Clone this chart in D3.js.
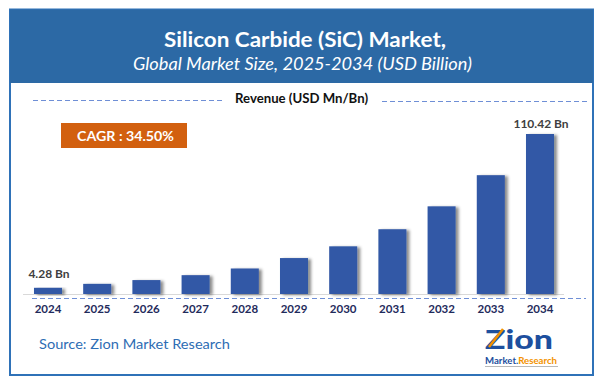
<!DOCTYPE html>
<html>
<head>
<meta charset="utf-8">
<script src="https://cdn.jsdelivr.net/npm/d3@7"></script>
<style>
  body { margin: 0; background: #fff; }
  svg { display: block; font-family: Lato, "Open Sans", sans-serif; }
</style>
</head>
<body>
<div id="chart"></div>
<script>
// values
var years = ["2024", "2025", "2026", "2027", "2028", "2029", "2030", "2031", "2032", "2033", "2034"];
var revenue = [4.28, 7.0, 9.6, 13.0, 17.6, 24.8, 32.9, 44.7, 60.5, 82.0, 110.42];
var barLabels = { "2024": "4.28 Bn", "2034": "110.42 Bn" };
var titleText = "Silicon Carbide (SiC) Market,";
var subtitleText = "Global Market Size, 2025-2034 (USD Billion)";
var legendText = "Revenue (USD Mn/Bn)";
var cagrText = "CAGR : 34.50%";
var sourceText = "Source: Zion Market Research";

var width = 603;
var height = 384;
var baseY = 294;

var svg = d3.select("#chart")
  .append("svg")
  .attr("width", width)
  .attr("height", height);

var defs = svg.append("defs");
var shadow = defs.append("filter")
  .attr("id", "barShadow")
  .attr("x", "-20%").attr("y", "-10%")
  .attr("width", "160%").attr("height", "130%");
shadow.append("feDropShadow")
  .attr("dx", 3).attr("dy", 1)
  .attr("stdDeviation", 1.6)
  .attr("flood-color", "#000")
  .attr("flood-opacity", 0.45);

// frame + header band
svg.append("rect")
  .attr("x", 10).attr("y", 9.5)
  .attr("width", 583).attr("height", 365.5)
  .attr("fill", "#fff")
  .attr("stroke", "#2f72b8")
  .attr("stroke-width", 2);
svg.append("rect")
  .attr("x", 10).attr("y", 9.5)
  .attr("width", 583).attr("height", 73.5)
  .attr("fill", "#2c69a5");

function fitText(sel, w) {
  sel.attr("textLength", w).attr("lengthAdjust", "spacingAndGlyphs");
}

svg.append("text")
  .attr("x", 305).attr("y", 47)
  .attr("text-anchor", "middle")
  .attr("fill", "#fff")
  .attr("font-size", 21)
  .attr("font-weight", "bold")
  .text(titleText)
  .call(fitText, 282);

svg.append("text")
  .attr("x", 302.5).attr("y", 70)
  .attr("text-anchor", "middle")
  .attr("fill", "#fff")
  .attr("font-size", 17)
  .attr("font-style", "italic")
  .text(subtitleText)
  .call(fitText, 339);

// legend line
svg.append("text")
  .attr("x", 301.5).attr("y", 103)
  .attr("text-anchor", "middle")
  .attr("fill", "#111")
  .attr("font-size", 12.5)
  .attr("font-weight", "bold")
  .text(legendText)
  .call(fitText, 133);

var dashStyle = function(sel) {
  sel.attr("stroke", "#6f8fd6")
    .attr("stroke-width", 1.2)
    .attr("stroke-dasharray", "5,3");
};
svg.append("line").attr("x1", 33).attr("x2", 223).attr("y1", 100.5).attr("y2", 100.5).call(dashStyle);
svg.append("line").attr("x1", 382).attr("x2", 588).attr("y1", 101.5).attr("y2", 101.5).call(dashStyle);

// CAGR box
svg.append("rect")
  .attr("x", 61).attr("y", 123)
  .attr("width", 126).attr("height", 25)
  .attr("fill", "#d2600f");
svg.append("text")
  .attr("x", 125.5).attr("y", 141)
  .attr("text-anchor", "middle")
  .attr("fill", "#fff")
  .attr("font-size", 14)
  .attr("font-weight", "bold")
  .text(cagrText)
  .call(fitText, 97);

// scales
var x = d3.scaleBand()
  .domain(years)
  .range([23.4, 564.6])
  .paddingInner(0.43)
  .paddingOuter(0.215);

var y = d3.scaleLinear()
  .domain([0, 110.42])
  .range([baseY, 134]);

// axis baseline
svg.append("line")
  .attr("x1", 23).attr("x2", 564)
  .attr("y1", baseY + 0.5).attr("y2", baseY + 0.5)
  .attr("stroke", "#d9d9d9")
  .attr("stroke-width", 1);
svg.append("line")
  .attr("x1", 32).attr("x2", 586)
  .attr("y1", 298.5).attr("y2", 298.5)
  .call(dashStyle);

var data = years.map(function(d, i) {
  return { year: d, value: revenue[i] };
});

svg.append("g")
  .selectAll("rect")
  .data(data)
  .enter()
  .append("rect")
  .attr("x", function(d) { return x(d.year); })
  .attr("y", function(d) { return y(d.value); })
  .attr("width", x.bandwidth())
  .attr("height", function(d) { return baseY - y(d.value); })
  .attr("fill", "#3258a6")
  .attr("filter", "url(#barShadow)");

svg.append("g")
  .selectAll("text")
  .data(data.filter(function(d) { return barLabels[d.year]; }))
  .enter()
  .append("text")
  .attr("x", function(d) { return x(d.year) + x.bandwidth() / 2 + 1; })
  .attr("y", function(d) { return y(d.value) - (d.value < 10 ? 10 : 6.5); })
  .attr("text-anchor", "middle")
  .attr("fill", "#404040")
  .attr("font-size", 12)
  .attr("font-weight", "bold")
  .text(function(d) { return barLabels[d.year]; });

// year labels via axis
var xAxis = d3.axisBottom(x).tickSize(0).tickPadding(0);
var gx = svg.append("g")
  .attr("transform", "translate(0," + 304 + ")")
  .call(xAxis);
gx.select(".domain").remove();
gx.selectAll("text")
  .attr("fill", "#1f2b5c")
  .attr("font-size", 11.5)
  .attr("font-weight", "bold")
  .attr("font-family", "Lato, sans-serif")
  .attr("dy", "0.75em");

// source
svg.append("text")
  .attr("x", 39).attr("y", 349)
  .attr("fill", "#2e6db4")
  .attr("font-size", 14)
  .text(sourceText)
  .call(fitText, 191);

// logo
var logo = svg.append("g");
logo.append("text")
  .attr("x", 485).attr("y", 349)
  .attr("fill", "#1d4f9e")
  .attr("font-size", 26)
  .attr("font-weight", "900")
  .attr("font-family", "Lato, sans-serif")
  .text("Zion")
  .call(fitText, 68);
logo.append("line")
  .attr("x1", 489).attr("y1", 347)
  .attr("x2", 503).attr("y2", 329)
  .attr("stroke", "#f39200")
  .attr("stroke-width", 2.5);
var mr = logo.append("text")
  .attr("x", 485).attr("y", 364)
  .attr("font-size", 9)
  .attr("font-weight", "bold")
  .call(fitText, 72);
mr.append("tspan").attr("fill", "#1d4f9e").text("Market.");
mr.append("tspan").attr("fill", "#f39200").text("Research");
logo.append("line")
  .attr("x1", 485).attr("x2", 558)
  .attr("y1", 366.5).attr("y2", 366.5)
  .attr("stroke", "#b9b9b9")
  .attr("stroke-width", 1);
</script>
</body>
</html>
